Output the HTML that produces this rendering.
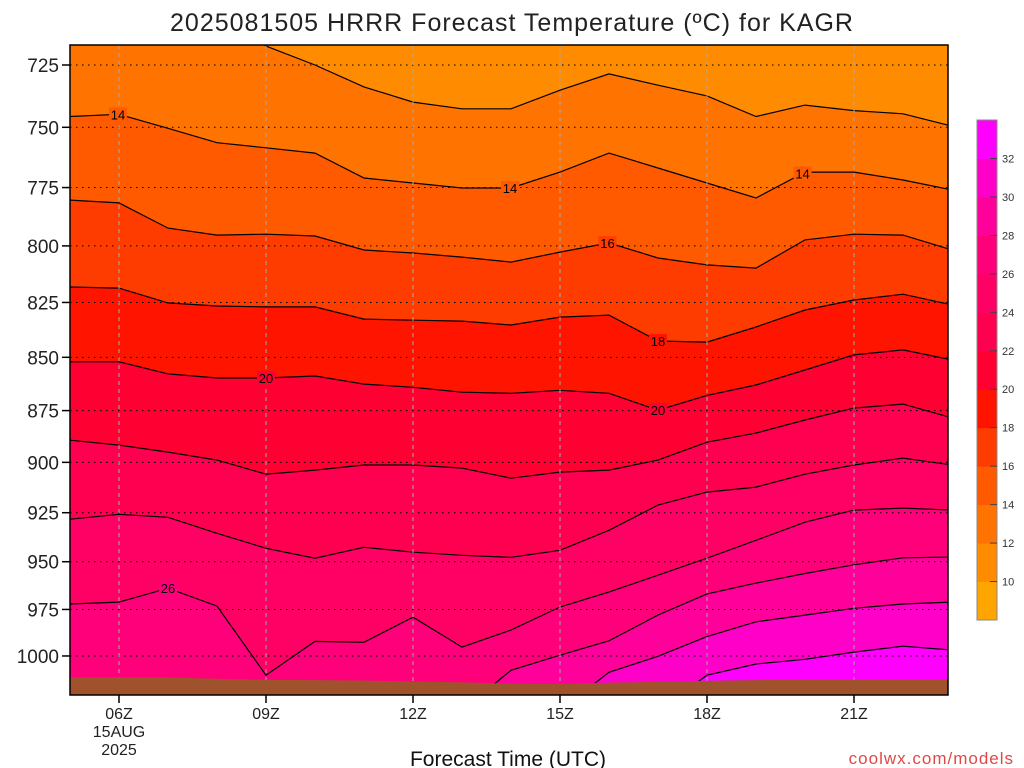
<!DOCTYPE html>
<html><head><meta charset="utf-8">
<style>
body{margin:0;background:#fff;}
svg{display:block;font-family:"Liberation Sans",sans-serif;}
</style></head>
<body>
<svg id="chart" width="1024" height="768" viewBox="0 0 1024 768">
<defs><clipPath id="plotclip"><rect x="70" y="45" width="878" height="650"/></clipPath></defs>
<text x="512" y="31" text-anchor="middle" font-size="25" fill="#222" letter-spacing="1">2025081505 HRRR Forecast Temperature (ºC) for KAGR</text>
<g id="plot" clip-path="url(#plotclip)"></g>
<g id="overlay"></g>
<text x="508" y="766" text-anchor="middle" font-size="21" fill="#111">Forecast Time (UTC)</text>
<text x="1014" y="764" text-anchor="end" font-size="17" fill="#e04848" letter-spacing="1">coolwx.com/models</text>
</svg>
<script>
const hours = [5,6,7,8,9,10,11,12,13,14,15,16,17,18,19,20,21,22,23];
const levels = [12,14,16,18,20,22,24,26,28,30,32];
const iso12 = [705,705,705,705,717.6,725,733.7,739.8,742.5,742.5,735,728.5,733,737.3,745.6,741,743.2,744.5,749.5];
const iso14 = [745.6,744.7,750.4,756.3,758.4,760.6,771,773.1,775.2,775.2,768.5,760.6,766.8,773.1,779.4,768.5,768.5,771.8,776];
const iso16 = [780.3,781.5,792.3,795.3,794.9,795.7,801.8,803.1,804.9,807.1,802.7,798.7,805.3,808.3,809.7,797.4,794.9,795.3,801.8];
const iso18 = [818.1,818.6,825.2,826.6,827,827,832.5,833,833.4,835.2,831.6,830.7,842.5,843,836.1,828.4,823.9,821.3,826.1];
const iso20 = [852.1,852.1,857.7,859.6,859.6,858.7,862.5,864,866.3,866.8,865.4,866.8,874.8,867.8,862.9,855.9,848.9,846.6,851.2];
const iso22 = [889.2,891.6,895,898.9,905.8,903.8,901.3,901.3,902.8,907.8,904.8,903.8,898.9,890.2,885.8,879.5,873.8,871.9,878.5];
const iso24 = [928.3,925.8,927.3,935.4,943.1,948.2,942.6,945.1,946.7,947.7,944.1,933.9,921.2,914.7,912.2,905.8,901.3,897.9,901.3];
const iso26 = [972.1,971.1,963.8,973.2,1010.5,992.1,992.6,979.1,995.2,986,973.7,965.8,957,948.2,939,929.8,923.7,922.7,923.7];
const iso28 = [1030,1030,1030,1030,1030,1030,1030,1030,1030,1007.8,999.6,991.8,978,966.8,961.1,956.1,951.6,948,947.6];
const iso30 = [1030,1030,1030,1030,1030,1030,1030,1030,1030,1030,1030,1008.9,1000.2,989.5,981.6,978,974.4,972.1,971.1];
const iso32 = [1030,1030,1030,1030,1030,1030,1030,1030,1030,1030,1030,1030,1030,1010.5,1004.4,1001.8,997.9,994.7,996.8];
const surfacePressure = [1011.8,1011.6,1011.8,1012.5,1013,1013.2,1013.5,1014,1014.5,1015.2,1015.4,1014.6,1014.2,1013.6,1013.2,1013,1013,1013,1013];
const pressureTicks = [725,750,775,800,825,850,875,900,925,950,975,1000];
const timeTicks = [6,9,12,15,18,21];
const timeTickLabels = ["06Z","09Z","12Z","15Z","18Z","21Z"];
const colorbarLabels = [10,12,14,16,18,20,22,24,26,28,30,32];
const bandColors = ["#FFA500","#FF8C00","#FF7300","#FF5A00","#FF3C00","#FF1400","#FF0032","#FF0050","#FF0064","#FF007A","#FF009A","#FF00C8","#FF00FF"];
const contourLabels = [[5.98,14],[13.98,14],[19.95,14],[15.97,16],[17.0,18],[9.0,20],[17.0,20],[7.0,26]];

const isos = [iso12,iso14,iso16,iso18,iso20,iso22,iso24,iso26,iso28,iso30,iso32];
const NS = "http://www.w3.org/2000/svg";
function xOf(h){return 70 + 49*(h-5);}
function yOf(p){return 65 + 1837.7*Math.log(p/725);}
function mk(tag, attrs, parent){const e=document.createElementNS(NS,tag);for(const k in attrs)e.setAttribute(k,attrs[k]);parent.appendChild(e);return e;}
function interp(arr,h){const i=Math.max(0,Math.min(hours.length-2,Math.floor(h-5)));const f=h-hours[i];return arr[i]+(arr[i+1]-arr[i])*f;}
const plot=document.getElementById('plot');
const ov=document.getElementById('overlay');

const bg=mk('rect',{x:70,y:45,width:878,height:650,fill:bandColors[1]},plot);


isos.forEach((arr,k)=>{
  let pts=hours.map((h,i)=>xOf(h)+','+yOf(arr[i]).toFixed(1));
  const poly=mk('polygon',{points:pts.join(' ')+' '+xOf(23)+',800 '+xOf(5)+',800',fill:bandColors[k+2]},plot);
  
  
});
isos.forEach((arr,k)=>{
  const pl=mk('polyline',{points:hours.map((h,i)=>xOf(h)+','+yOf(arr[i]).toFixed(1)).join(' '),fill:'none',stroke:'#000','stroke-width':1.2},plot);
  
  
});
// grid
pressureTicks.forEach(p=>{
  const g=mk('line',{x1:70,x2:948,y1:yOf(p),y2:yOf(p),stroke:'#000','stroke-width':1,'stroke-dasharray':'1.5,4.5'},plot);
  
  
});
timeTicks.forEach(h=>{
  const g=mk('line',{x1:xOf(h),x2:xOf(h),y1:45,y2:695,stroke:'#aaa','stroke-width':1,'stroke-dasharray':'4,4'},plot);
  
  
});
// ground
const gpts=hours.map((h,i)=>xOf(h)+','+yOf(surfacePressure[i]).toFixed(1));
const ground=mk('polygon',{points:gpts.join(' ')+' '+xOf(23)+',700 '+xOf(5)+',700',fill:'#A0522D'},plot);


// contour labels
contourLabels.forEach(([h,lv])=>{
  const k=levels.indexOf(lv);
  const x=xOf(h), y=yOf(interp(isos[k],h));
  const r=mk('rect',{x:x-9,y:y-7,width:18,height:14,fill:bandColors[k+2]},plot);
  
  
  const t=mk('text',{x:x,y:y+5,'text-anchor':'middle','font-size':13,fill:'#000'},plot);
  t.textContent=lv;
  
  
});
// border
const bd=mk('rect',{x:70,y:45,width:878,height:650,fill:'none',stroke:'#000','stroke-width':1.5},ov);


// y axis
pressureTicks.forEach(p=>{
  const y=yOf(p);
  const tk=mk('line',{x1:62,x2:70,y1:y,y2:y,stroke:'#000','stroke-width':1.5},ov);
  
  
  const t=mk('text',{x:59,y:y+7,'text-anchor':'end','font-size':19,fill:'#222'},ov);
  t.textContent=p;
  
  
});
// x axis
timeTicks.forEach((h,i)=>{
  const x=xOf(h);
  const tk=mk('line',{x1:x,x2:x,y1:695,y2:703,stroke:'#000','stroke-width':1.5},ov);
  
  
  const t=mk('text',{x:x,y:719,'text-anchor':'middle','font-size':16,fill:'#222'},ov);
  t.textContent=timeTickLabels[i];
  
  
});
const d1=mk('text',{x:xOf(6),y:737,'text-anchor':'middle','font-size':16,fill:'#222'},ov);
d1.textContent='15AUG';


const d2=mk('text',{x:xOf(6),y:755,'text-anchor':'middle','font-size':16,fill:'#222'},ov);
d2.textContent='2025';


// colorbar
const cbTop=120, cbH=500, nb=bandColors.length, bh=cbH/nb;
bandColors.forEach((c,i)=>{
  const r=mk('rect',{x:977,y:cbTop+cbH-(i+1)*bh,width:20,height:bh+0.5,fill:c},ov);
  
  
});
const cbb=mk('rect',{x:977,y:cbTop,width:20,height:cbH,fill:'none',stroke:'#888','stroke-width':1},ov);


colorbarLabels.forEach((v,i)=>{
  const y=cbTop+cbH-(i+1)*bh;
  const tk=mk('line',{x1:990,x2:997,y1:y,y2:y,stroke:'#444','stroke-width':1},ov);
  
  
  const t=mk('text',{x:1002,y:y+4,'font-size':11,fill:'#333'},ov);
  t.textContent=v;
  
  
});
</script>
</body></html>
